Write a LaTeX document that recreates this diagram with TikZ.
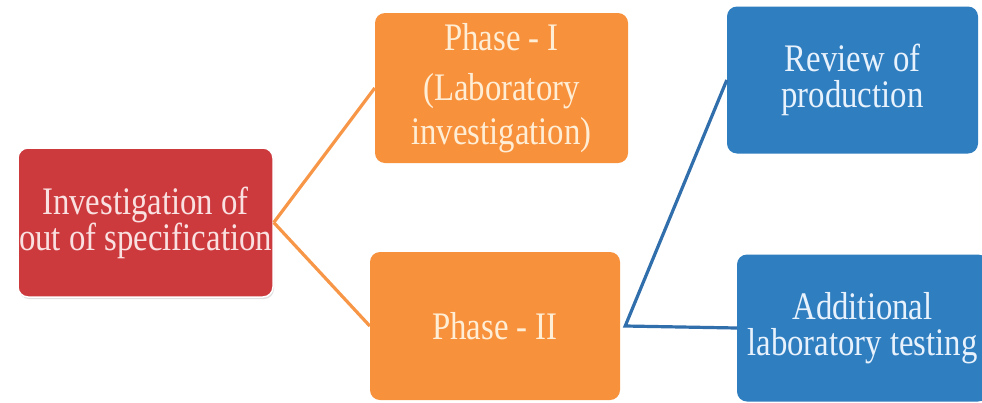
\documentclass[tikz,border=0pt]{standalone}
\usepackage{fontspec}
\setmainfont[FakeStretch=0.84]{Liberation Serif}
\usetikzlibrary{shadows}
\definecolor{boxred}{RGB}{205,58,62}
\definecolor{boxorange}{RGB}{248,145,60}
\definecolor{boxblue}{RGB}{47,126,192}
\definecolor{lineorange}{RGB}{247,150,70}
\definecolor{lineblue}{RGB}{48,110,172}
\definecolor{redtext}{RGB}{250,225,225}
\definecolor{orangetext}{RGB}{255,238,214}
\definecolor{bluetext}{RGB}{232,242,252}
\begin{document}
\begin{tikzpicture}[x=1pt,y=-1pt,
  box/.style={rounded corners=10pt, align=center, inner sep=0pt,
    font=\fontsize{39}{36}\selectfont},
  redbox/.style={box, fill=boxred, text=redtext, draw=white, line width=1.5pt,
    drop shadow={opacity=0.25, shadow xshift=1pt, shadow yshift=-2pt}},
  orangebox/.style={box, fill=boxorange, text=orangetext},
  bluebox/.style={box, fill=boxblue, text=bluetext},
  oline/.style={draw=lineorange, line width=3.2pt},
  bline/.style={draw=lineblue, line width=3.2pt}]
\clip (0,0) rectangle (982,402);
\fill[white] (0,0) rectangle (982,402);
\node[redbox, minimum width=255pt, minimum height=149pt] (inv) at (145.5,222.5)
  {Investigation of\\out of specification};
\node[orangebox, minimum width=253pt, minimum height=150pt,
  font=\fontsize{39}{44}\selectfont] (p1) at (501.5,88)
  {Phase - I\\[6pt](Laboratory\\investigation)};
\node[orangebox, minimum width=250pt, minimum height=148pt] (p2) at (495,326)
  {Phase - II};
\node[bluebox, minimum width=251pt, minimum height=147pt] (rev) at (852.5,80)
  {Review of\\production};
\node[bluebox, minimum width=251pt, minimum height=147pt] (add) at (862.5,328)
  {Additional\\laboratory testing};
\draw[oline] (inv.east) -- (p1.west);
\draw[oline] (inv.east) -- (p2.west);
\coordinate (j) at ([xshift=5pt]p2.east);
\draw[bline, line join=miter] (rev.west) -- (j) -- (add.west);
\end{tikzpicture}
\end{document}
